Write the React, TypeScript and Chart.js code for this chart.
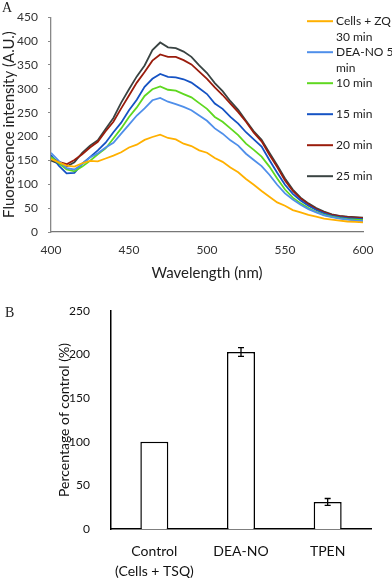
import React, { useEffect, useRef } from 'react';
import { Chart, registerables } from 'chart.js';

Chart.register(...registerables);
Chart.defaults.font.family = 'Lato';

// ---------- Panel A data ----------
const wavelengths = [400, 405, 410, 415, 420, 425, 430, 435, 440, 445, 450, 455, 460, 465, 470, 475, 480, 485, 490, 495, 500, 505, 510, 515, 520, 525, 530, 535, 540, 545, 550, 555, 560, 565, 570, 575, 580, 585, 590, 595, 600];
const cellsZQ = [153, 146, 139, 137, 144, 149, 148, 154, 160, 167, 177, 183, 193, 199, 204, 197, 194, 185, 180, 171, 166, 155, 147, 135, 125, 111, 99, 86, 74, 62, 55, 46, 41, 36, 32, 28, 26, 24, 22, 21, 20];
const deaNO5 = [166, 149, 134, 131, 142, 156, 165, 177, 187, 206, 225, 244, 259, 276, 281, 273, 268, 262, 255, 244, 233, 217, 206, 192, 181, 164, 151, 138, 120, 99, 81, 68, 57, 48, 41, 35, 31, 28, 26, 24, 23];
const deaNO10 = [157, 144, 131, 127, 137, 149, 163, 175, 196, 217, 241, 261, 285, 299, 305, 298, 296, 289, 282, 270, 258, 241, 231, 217, 203, 185, 172, 158, 137, 112, 89, 72, 60, 50, 42, 36, 32, 29, 27, 26, 25];
const deaNO15 = [161, 139, 123, 124, 143, 157, 171, 187, 209, 229, 255, 277, 304, 321, 331, 325, 324, 320, 313, 301, 289, 269, 258, 241, 227, 209, 194, 179, 151, 124, 99, 80, 66, 55, 46, 39, 34, 31, 29, 28, 27];
const deaNO20 = [156, 147, 142, 151, 163, 177, 189, 211, 231, 259, 286, 313, 335, 359, 372, 367, 367, 360, 351, 336, 321, 303, 287, 269, 251, 231, 208, 190, 162, 136, 108, 86, 70, 58, 48, 41, 36, 33, 31, 30, 29];
const deaNO25 = [150, 143, 137, 146, 166, 181, 192, 216, 239, 271, 299, 326, 349, 381, 397, 387, 385, 378, 367, 349, 333, 312, 295, 274, 256, 233, 211, 193, 166, 140, 112, 89, 72, 60, 50, 43, 37, 34, 32, 31, 30];
const seriesLabels = [['Cells + ZQ', '30 min'], ['DEA-NO 5', 'min'], ['10 min'], ['15 min'], ['20 min'], ['25 min']];
const seriesValues = [cellsZQ, deaNO5, deaNO10, deaNO15, deaNO20, deaNO25];
const seriesColors = ['#FFB000', '#4F8FEA', '#5FD820', '#1553C4', '#9A1C0C', '#3A4443'];

// ---------- Panel B data ----------
const barCategories = [['Control', '(Cells + TSQ)'], 'DEA-NO', 'TPEN'];
const barValues = [100, 203, 31];
const barErrors = [0, 5, 4];

const legendPlugin = {
  id: 'sideLegend',
  afterDraw(chart: any) {
    const { ctx, chartArea } = chart;
    ctx.save();
    ctx.font = '12px Lato';
    ctx.textBaseline = 'middle';
    ctx.textAlign = 'left';
    seriesLabels.forEach((lines, i) => {
      const y = chartArea.top + 4 + i * 31;
      const x0 = chartArea.right - 56;
      ctx.strokeStyle = seriesColors[i];
      ctx.lineWidth = 2;
      ctx.beginPath();
      ctx.moveTo(x0, y);
      ctx.lineTo(x0 + 26, y);
      ctx.stroke();
      ctx.fillStyle = '#222';
      lines.forEach((t, j) => ctx.fillText(t, x0 + 29, y + j * 15.5));
    });
    ctx.restore();
  },
};

const errorBarPlugin = {
  id: 'errorBars',
  afterDatasetsDraw(chart: any) {
    const { ctx } = chart;
    const yScale = chart.scales.y;
    const meta = chart.getDatasetMeta(0);
    ctx.save();
    ctx.strokeStyle = '#000';
    ctx.lineWidth = 1.3;
    meta.data.forEach((bar: any, i: number) => {
      const e = barErrors[i];
      if (!e) return;
      const yt = yScale.getPixelForValue(barValues[i] + e);
      const yb = yScale.getPixelForValue(barValues[i] - e);
      ctx.beginPath();
      ctx.moveTo(bar.x, yt);
      ctx.lineTo(bar.x, yb);
      ctx.moveTo(bar.x - 3, yt);
      ctx.lineTo(bar.x + 3, yt);
      ctx.moveTo(bar.x - 3, yb);
      ctx.lineTo(bar.x + 3, yb);
      ctx.stroke();
    });
    ctx.restore();
  },
};

function SpectraChart() {
  const ref = useRef<HTMLCanvasElement>(null);
  useEffect(() => {
    const chart = new Chart(ref.current!, {
      type: 'line',
      data: {
        datasets: seriesValues.map((vals, i) => ({
          label: seriesLabels[i].join(' '),
          data: wavelengths.map((w, k) => ({ x: w, y: vals[k] })),
          borderColor: seriesColors[i],
          borderWidth: 1.8,
          pointRadius: 0,
          tension: 0,
          fill: false,
        })),
      },
      options: {
        responsive: false,
        animation: false,
        layout: { padding: { left: 0, right: 29, top: 12, bottom: 0 } },
        plugins: { legend: { display: false }, tooltip: { enabled: false } },
        scales: {
          x: {
            type: 'linear',
            min: 400,
            max: 600,
            ticks: { stepSize: 50, color: '#333', font: { size: 12 }, padding: 3 },
            grid: { display: false },
            border: { display: true, color: '#777', width: 1.3 },
            title: { display: true, text: 'Wavelength (nm)', color: '#222', font: { size: 15 }, padding: { top: 0, bottom: 8 } },
            afterFit: (s: any) => { s.height = 58; },
          },
          y: {
            min: 0,
            max: 450,
            ticks: { stepSize: 50, color: '#333', font: { size: 12 }, padding: 10 },
            grid: { drawOnChartArea: false, drawTicks: true, tickLength: 3, color: '#888' },
            border: { display: true, color: '#888', width: 1.3 },
            title: { display: true, text: 'Fluorescence intensity (A.U.)', color: '#222', font: { size: 15 }, padding: 0 },
            afterFit: (s: any) => { s.width = 51; },
          },
        },
      },
      plugins: [legendPlugin],
    });
    return () => chart.destroy();
  }, []);
  return <canvas ref={ref} width={392} height={290} style={{ position: 'absolute', left: 0, top: 0, display: 'block' }} />;
}

function BarPanel() {
  const ref = useRef<HTMLCanvasElement>(null);
  useEffect(() => {
    const chart = new Chart(ref.current!, {
      type: 'bar',
      data: {
        labels: barCategories as any,
        datasets: [{
          data: barValues,
          backgroundColor: '#fff',
          borderColor: '#000',
          borderWidth: 1.5,
          barPercentage: 0.323,
          categoryPercentage: 1,
        }],
      },
      options: {
        responsive: false,
        animation: false,
        layout: { padding: { left: 56, right: 21, top: 21, bottom: 0 } },
        plugins: { legend: { display: false }, tooltip: { enabled: false } },
        scales: {
          x: {
            ticks: { color: '#111', font: { size: 14, lineHeight: 1.45 }, padding: 4 },
            grid: { display: false },
            border: { display: true, color: '#000', width: 1.5 },
            afterFit: (s: any) => { s.height = 52; },
          },
          y: {
            min: 0,
            max: 250,
            ticks: { stepSize: 50, color: '#111', font: { size: 12 }, padding: 13 },
            grid: { display: false },
            border: { display: true, color: '#000', width: 1.5 },
            title: { display: true, text: 'Percentage of control (%)', color: '#111', font: { size: 14 }, padding: 0 },
            afterFit: (s: any) => { s.width = 55; },
          },
        },
      },
      plugins: [errorBarPlugin],
    });
    return () => chart.destroy();
  }, []);
  return <canvas ref={ref} width={392} height={291} style={{ position: 'absolute', left: 0, top: 290, display: 'block' }} />;
}

export default function App() {
  return (
    <div style={{ position: 'fixed', left: 0, top: 0, width: 392, height: 581, background: '#fff', overflow: 'hidden' }}>
      <SpectraChart />
      <BarPanel />
      <div style={{ position: 'absolute', left: 2, top: 0, font: '14px "Liberation Serif", serif', color: '#222' }}>A</div>
      <div style={{ position: 'absolute', left: 5, top: 305, font: '14px "Liberation Serif", serif', color: '#222' }}>B</div>
    </div>
  );
}
